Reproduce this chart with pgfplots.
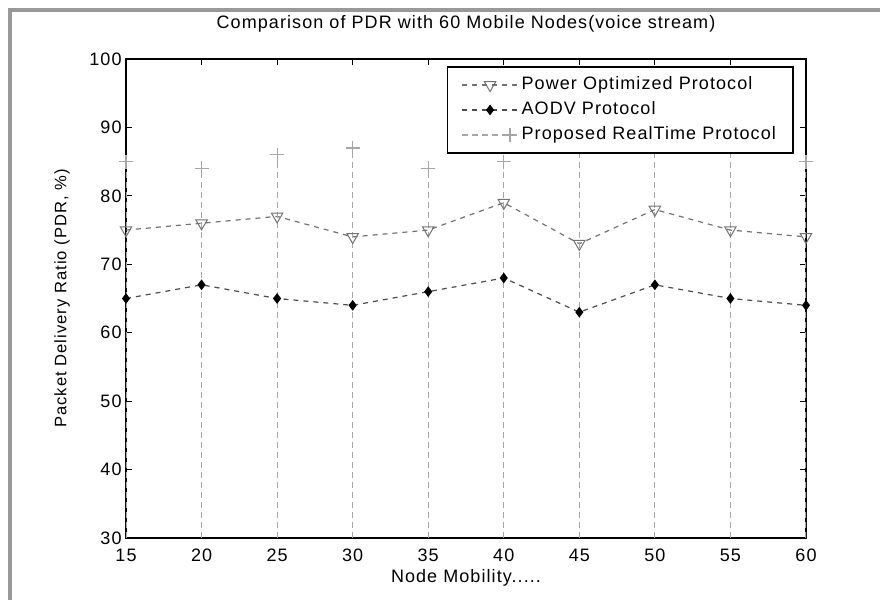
\documentclass[border=0pt]{standalone}
\usepackage{fontspec}
\setmainfont{Liberation Sans}[LetterSpace=6]
\usepackage{pgfplots}
\pgfplotsset{compat=1.18}
\definecolor{framegray}{gray}{0.6}
\definecolor{powgray}{gray}{0.45}
\definecolor{aodvline}{gray}{0.3}
\definecolor{propgray}{gray}{0.65}
\pgfplotsset{
  linelegend/.style={legend image code/.code={\draw[mark repeat=2,mark phase=2,##1] plot coordinates {(0pt,0pt)(14pt,0pt)(28pt,0pt)};}},
  proplegend/.style={legend image code/.code={\draw[sharp plot, mark indices={2},##1] plot coordinates {(0pt,0pt)(24pt,0pt)};}},
}

\begin{document}
\begin{tikzpicture}
\useasboundingbox (0,0) rectangle (440pt,300pt);
\fill[white] (0,0) rectangle (440pt,300pt);
\draw[framegray, line width=1.6pt] (5pt,-5pt) -- (5pt,295pt) -- (445pt,295pt);
\begin{axis}[
  at={(63pt,31pt)}, anchor=south west,
  scale only axis, width=340pt, height=239.5pt,
  xmin=15, xmax=60, ymin=30, ymax=100,
  xtick={15,20,...,60}, ytick={30,40,...,100},
  tick align=inside, major tick length=3pt,
  tick style={black, line width=0.6pt},
  axis line style={line width=0.8pt},
  /pgf/number format/assume math mode=true,
  font=\fontsize{9}{10}\selectfont,
  ticklabel style={font=\fontsize{9}{10}\selectfont},
  xticklabel style={inner sep=1.5pt, yshift=-4pt},
  yticklabel style={inner sep=2pt},
  title={Comparison of PDR with 60 Mobile Nodes(voice stream)},
  title style={at={(0.5,1)}, anchor=center, yshift=11.5pt},
  xlabel={Node Mobility.....},
  xlabel style={at={(0.5,0)}, anchor=center, yshift=-20pt},
  ylabel={Packet Delivery Ratio (PDR, \%)},
  ylabel style={at={(0,0.5)}, anchor=center, yshift=32pt, font=\fontsize{8.3}{10}\selectfont},
  legend cell align=left,
  legend style={at={(0.982,0.985)}, anchor=north east, draw=black, line width=0.8pt,
    inner xsep=7pt, inner ysep=3pt, row sep=0.5pt,
    nodes={inner sep=1.5pt, text height=7pt, text depth=2pt},
    font=\fontsize{9}{10}\selectfont},
  linelegend,
]
\addplot[powgray, line width=0.6pt, dash pattern=on 2.5pt off 2.5pt,
  mark=triangle, mark size=3.3pt, mark options={solid, rotate=180, powgray, line width=0.5pt}]
  coordinates {(15,75)(20,76)(25,77)(30,74)(35,75)(40,79)(45,73)(50,78)(55,75)(60,74)};
\addlegendentry{Power Optimized Protocol}
\addplot[aodvline, line width=0.6pt, dash pattern=on 2.5pt off 2.5pt,
  mark=diamond*, mark size=2.2pt, mark options={solid, black, fill=black}]
  coordinates {(15,65)(20,67)(25,65)(30,64)(35,66)(40,68)(45,63)(50,67)(55,65)(60,64)};
\addlegendentry{AODV Protocol}
\addplot[propgray, line width=0.6pt, dash pattern=on 3pt off 2pt, ycomb,
  mark=+, mark size=3.5pt, mark options={solid, propgray, line width=0.6pt}, proplegend]
  coordinates {(15,85)(20,84)(25,86)(30,87)(35,84)(40,85)(45,86.5)(50,88)(55,88)(60,85)};
\addlegendentry{Proposed RealTime Protocol}
\end{axis}
\end{tikzpicture}
\end{document}
